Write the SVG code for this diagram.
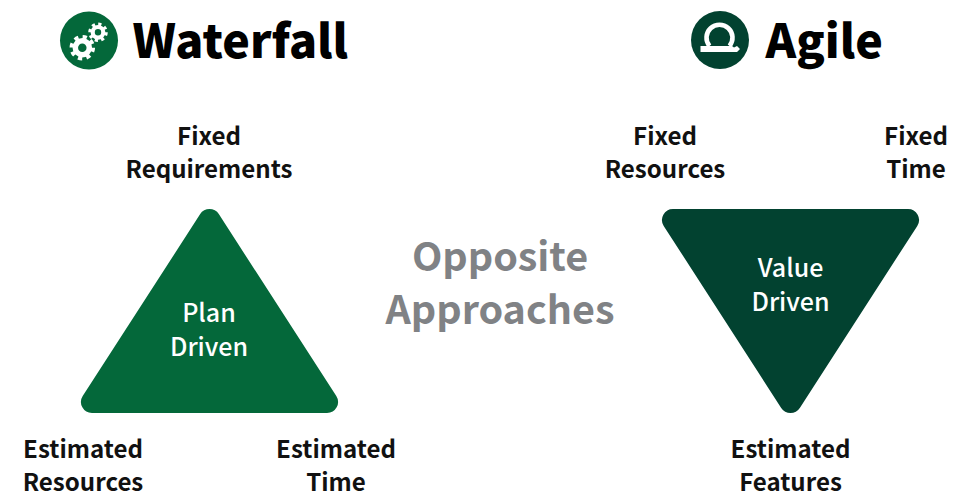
<svg xmlns="http://www.w3.org/2000/svg" width="974" height="493" viewBox="0 0 974 493">
<style>
text{font-family:"Noto Sans CJK JP","Noto Sans CJK SC","Noto Sans",sans-serif;text-anchor:middle}
.h{font-size:46.500px;font-weight:900;fill:#000;text-anchor:start}
.l{font-size:24.100px;font-weight:700;fill:#111}
.c{font-size:25px;font-weight:500;fill:#fff}
.m{font-size:39.500px;font-weight:700;fill:#808285}
.g{fill:none;stroke:#fff}
</style>
<rect width="974" height="493" fill="#fff"/>
<g id="waterfall-title">
<circle cx="89" cy="40.500" r="29" fill="#04683a"/>
<g id="gear-big"><circle class="g" cx="82.300" cy="47.700" r="7" stroke-width="5.500"/><circle class="g" cx="82.300" cy="47.700" r="10.500" stroke-width="4.500" stroke-dasharray="4.100 4.150"/></g>
<g id="gear-small"><circle class="g" cx="98" cy="32.300" r="5.300" stroke-width="4.200"/><circle class="g" cx="98" cy="32.300" r="8" stroke-width="3.500" stroke-dasharray="3.100 3.180"/></g>
<text class="h" x="132.500" y="58">Waterfall</text>
</g>
<g id="agile-title">
<circle cx="720" cy="40" r="29" fill="#024230"/>
<path d="M709.500 46A13 13 0 1 1 729.500 46" fill="none" stroke="#fff" stroke-width="4.600"/>
<path d="M700.500 46H732L734 47.500L737 46L740 49L737 52H700.500Z" fill="#fff"/>
<text class="h" x="765.500" y="58">Agile</text>
</g>
<g id="plan-driven">
<path d="M200.200 214.100A11 11 0 0 1 218.800 214.100L336.300 396.100A11 11 0 0 1 327 413H92A11 11 0 0 1 82.700 396.100Z" fill="#04683a"/>
<text class="c" x="209" y="322">Plan</text>
<text class="c" x="209" y="355.500">Driven</text>
</g>
<g id="value-driven">
<path d="M673 209H908A11 11 0 0 1 917.300 225.900L799.800 407.900A11 11 0 0 1 781.200 407.900L663.700 225.900A11 11 0 0 1 673 209Z" fill="#024230"/>
<text class="c" x="790.500" y="277">Value</text>
<text class="c" x="790.500" y="310.500">Driven</text>
</g>
<g id="fixed-requirements"><text class="l" x="209" y="145">Fixed</text><text class="l" x="209" y="178">Requirements</text></g>
<g id="estimated-resources"><text class="l" x="83" y="458">Estimated</text><text class="l" x="83" y="491">Resources</text></g>
<g id="estimated-time"><text class="l" x="336" y="458">Estimated</text><text class="l" x="336" y="491">Time</text></g>
<g id="opposite"><text class="m" x="500" y="271">Opposite</text><text class="m" x="500" y="324">Approaches</text></g>
<g id="fixed-resources"><text class="l" x="665" y="145">Fixed</text><text class="l" x="665" y="178">Resources</text></g>
<g id="fixed-time"><text class="l" x="916" y="145">Fixed</text><text class="l" x="916" y="178">Time</text></g>
<g id="estimated-features"><text class="l" x="790.500" y="458">Estimated</text><text class="l" x="790.500" y="491">Features</text></g>
<g id="connectors"/>
</svg>
